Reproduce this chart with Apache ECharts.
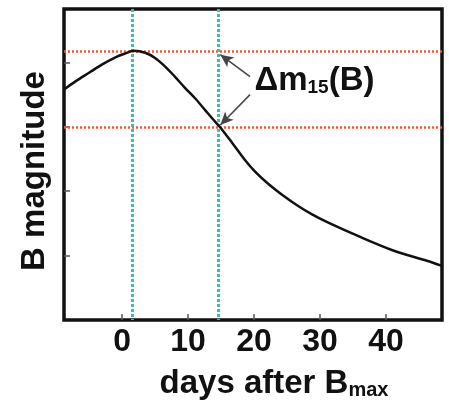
<!DOCTYPE html>
<html>
<head>
<meta charset="utf-8">
<script src="https://cdn.jsdelivr.net/npm/echarts@6/dist/echarts.min.js"></script>
<style>
html, body { margin: 0; padding: 0; background: #fff; }
#chart { width: 449px; height: 407px; }
</style>
</head>
<body>
<div id="chart"></div>
<script>
// light curve (days after max, B magnitude)
const days = [-8.8, -7, -5, -3, -1, 0.5, 1.7, 3.5, 5, 6.5, 8, 9.5, 11.1, 12.6, 14.1, 14.9, 16.7, 18.6, 20.2, 22.1, 24.2, 26.7, 28.8, 31.1, 36.1, 41.1, 46.2, 48.5]
const mags = [12.42, 12.29, 12.16, 12.03, 11.92, 11.86, 11.82, 11.85, 11.93, 12.06, 12.22, 12.39, 12.56, 12.74, 12.92, 13.01, 13.25, 13.51, 13.7, 13.88, 14.05, 14.23, 14.36, 14.48, 14.71, 14.92, 15.08, 15.16]
const xTicks = [0, 10, 20, 30, 40]
const yTicks = [12, 13, 14, 15]

// guide lines
const guideDays = [1.5, 14.6]
const guideMags = [11.83, 13.0]
// arrows: [from, to]
const arrows = [
  [[19.4, 12.22], [14.9, 11.88]],
  [[19.4, 12.50], [14.9, 12.97]]
]
const labelAt = [20.0, 12.29]

const font = 'Liberation Sans, Arial, sans-serif'
const red = '#f7553a'
const cyan = '#3dbdae'

const chart = echarts.init(document.getElementById('chart'))

chart.setOption({
  backgroundColor: '#fff',
  animation: false,
  grid: {
    left: 64, right: 7, top: 9, bottom: 87,
    show: true,
    borderColor: '#111',
    borderWidth: 3.5
  },
  xAxis: {
    type: 'value',
    min: -8.8,
    max: 48.5,
    axisLine: { show: false, onZero: false },
    splitLine: { show: false },
    axisTick: {
      inside: true, length: 6, customValues: xTicks,
      lineStyle: { color: '#555', width: 1.5 }
    },
    axisLabel: {
      customValues: xTicks,
      fontFamily: font, fontSize: 32, fontWeight: 'bold', color: '#111', margin: 6
    },
    name: '{a|days after B}{b|max}',
    nameLocation: 'middle',
    nameGap: 47,
    nameTextStyle: {
      padding: [0, 0, 0, 42],
      rich: {
        a: { fontFamily: font, fontSize: 33, fontWeight: 'bold', color: '#111', lineHeight: 33, verticalAlign: 'top' },
        b: { fontFamily: font, fontSize: 20, fontWeight: 'bold', color: '#111', lineHeight: 3, verticalAlign: 'bottom' }
      }
    }
  },
  yAxis: {
    type: 'value',
    inverse: true,
    min: 11.17,
    max: 16,
    axisLine: { show: false, onZero: false },
    splitLine: { show: false },
    axisLabel: { show: false },
    axisTick: {
      inside: true, length: 6, customValues: yTicks,
      lineStyle: { color: '#555', width: 1.5 }
    },
    name: 'B magnitude',
    nameLocation: 'middle',
    nameGap: 13,
    nameTextStyle: {
      fontFamily: font, fontSize: 33, fontWeight: 'bold', color: '#111',
      padding: [0, 13, 0, 0]
    }
  },
  series: [
    {
      type: 'line',
      z: 3,
      data: days.map((d, i) => [d, mags[i]]),
      smooth: 0.3,
      showSymbol: false,
      lineStyle: { color: '#111', width: 2.5 },
      markLine: {
        silent: true,
        symbol: 'none',
        label: { show: false },
        z: 2,
        data: [
          ...guideMags.map(m => ({ yAxis: m, lineStyle: { color: red, width: 2.5, type: [2, 2] } })),
          ...guideDays.map(d => ({ xAxis: d, lineStyle: { color: cyan, width: 3, type: [3, 2] } }))
        ]
      },
      markPoint: {
        silent: true,
        symbol: 'circle',
        symbolSize: 1,
        itemStyle: { color: 'transparent' },
        data: [{
          coord: labelAt,
          label: {
            show: true,
            position: 'right',
            distance: 0,
            formatter: '{a|Δm}{b|15}{a|(B)}',
            rich: {
              a: { fontFamily: font, fontSize: 33, fontWeight: 'bold', color: '#111', lineHeight: 33, verticalAlign: 'middle' },
              b: { fontFamily: font, fontSize: 19, fontWeight: 'bold', color: '#111', lineHeight: 18, verticalAlign: 'bottom' }
            }
          }
        }]
      }
    },
    {
      type: 'line',
      data: [],
      z: 4,
      markLine: {
        silent: true,
        symbol: ['none', 'arrow'],
        symbolSize: [9, 13],
        label: { show: false },
        lineStyle: { color: '#444', width: 1.5, type: 'solid' },
        data: arrows.map(a => [{ coord: a[0] }, { coord: a[1] }])
      }
    }
  ]
})
</script>
</body>
</html>
